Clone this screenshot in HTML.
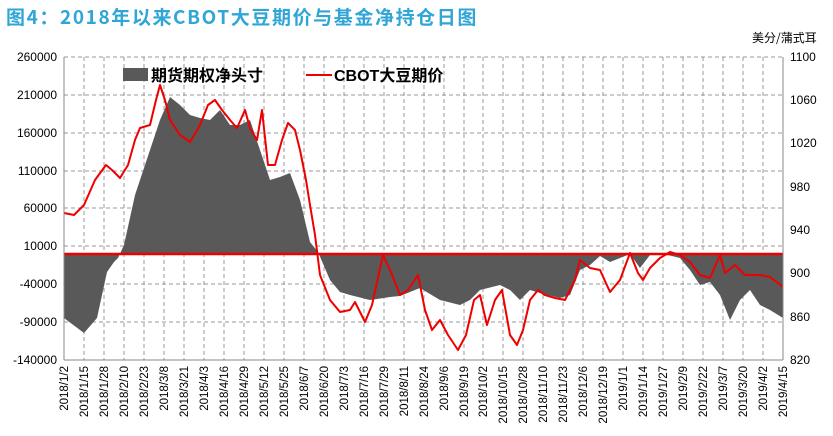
<!DOCTYPE html>
<html><head><meta charset="utf-8"><style>
body{margin:0;background:#fff;}
svg{display:block;font-family:"Liberation Sans","Noto Sans CJK SC",sans-serif;}
</style></head><body>
<svg width="833" height="436" viewBox="0 0 833 436" xmlns="http://www.w3.org/2000/svg">
<rect width="833" height="436" fill="#fff"/>
<text x="6" y="24" font-size="19" font-weight="bold" fill="#2fa6d6" font-family="'Noto Sans CJK SC',sans-serif" letter-spacing="1.6">图4：2018年以来CBOT大豆期价与基金净持仓日图</text>
<text x="752" y="42" font-size="12" fill="#000" font-family="'Noto Sans CJK SC',sans-serif">美分/蒲式耳</text>
<g stroke="#999" stroke-width="1" stroke-dasharray="4,3" fill="none">
<path d="M64 57H783M64 95H783M64 133H783M64 171H783M64 208H783M64 246H783M64 284H783M64 322H783"/>
<path d="M84 57V360M104 57V360M124 57V360M144 57V360M164 57V360M184 57V360M204 57V360M224 57V360M244 57V360M264 57V360M284 57V360M304 57V360M324 57V360M344 57V360M364 57V360M384 57V360M404 57V360M424 57V360M444 57V360M464 57V360M483 57V360M503 57V360M523 57V360M543 57V360M563 57V360M583 57V360M603 57V360M623 57V360M643 57V360M663 57V360M683 57V360M703 57V360M723 57V360M743 57V360M763 57V360"/>
</g>
<path fill="#595959" d="M64 254L64 318 84 333 97 318 107 272 114 262 118 258 124 245 135 195 150 150 160 120 170 97 180 105 190 115 200 118 210 120 220 110 230 125 240 125 250 120 260 150 270 180 280 177 290 173 300 200 310 242 318 252 330 280 340 292 350 295 370 300 390 297 400 296 410 292 420 288 440 300 460 305 470 300 480 290 500 285 510 290 520 300 530 290 540 293 560 298 570 295 580 270 590 265 600 256 610 262 620 258 630 254 640 268 650 255 660 253 680 258 690 270 700 285 710 282 720 295 730 320 740 300 750 290 760 305 770 310 783 318 783 254Z"/>
<line x1="64" y1="254" x2="783" y2="254" stroke="#e00" stroke-width="2.5"/>
<polyline fill="none" stroke="#e00" stroke-width="2" stroke-linejoin="round" points="64,213 74,215 84,205 95,180 106,165 112,170 120,178 128,165 135,140 140,128 150,125 156,100 160,85 165,100 170,120 180,135 190,142 200,125 208,105 215,100 222,110 230,120 237,128 245,110 250,128 257,140 262,110 268,165 275,165 282,140 288,123 295,130 300,150 306,180 310,205 315,235 320,275 330,300 340,312 350,310 355,302 365,322 372,305 383,255 390,270 400,295 408,290 418,275 425,310 432,330 440,320 448,335 458,350 466,335 474,300 480,295 487,325 495,300 502,290 510,335 517,345 523,330 530,300 538,290 545,295 555,298 565,300 575,280 580,260 590,268 600,270 610,292 620,280 630,253 638,273 643,280 650,268 660,258 670,252 680,255 690,262 700,275 710,278 720,255 725,273 735,265 745,275 760,275 770,277 783,287"/>
<g stroke="#888" stroke-width="1">
<line x1="64" y1="57" x2="64" y2="360"/><line x1="783" y1="57" x2="783" y2="360"/>
<line x1="64" y1="360" x2="783" y2="360"/>
</g>
<g font-size="12" fill="#000" text-anchor="end">
<text x="57" y="61">260000</text><text x="57" y="99">210000</text><text x="57" y="137">160000</text><text x="57" y="175">110000</text><text x="57" y="212">60000</text><text x="57" y="250">10000</text><text x="57" y="288">-40000</text><text x="57" y="326">-90000</text><text x="57" y="364">-140000</text>
</g>
<g font-size="12" fill="#000">
<text x="790" y="61">1100</text><text x="790" y="104">1060</text><text x="790" y="147">1020</text><text x="790" y="191">980</text><text x="790" y="234">940</text><text x="790" y="277">900</text><text x="790" y="321">860</text><text x="790" y="364">820</text>
</g>
<g font-size="11.5" fill="#000" text-anchor="end">
<text transform="translate(68,366) rotate(-90)">2018/1/2</text>
<text transform="translate(88,366) rotate(-90)">2018/1/15</text>
<text transform="translate(108,366) rotate(-90)">2018/1/28</text>
<text transform="translate(128,366) rotate(-90)">2018/2/10</text>
<text transform="translate(148,366) rotate(-90)">2018/2/23</text>
<text transform="translate(168,366) rotate(-90)">2018/3/8</text>
<text transform="translate(188,366) rotate(-90)">2018/3/21</text>
<text transform="translate(208,366) rotate(-90)">2018/4/3</text>
<text transform="translate(228,366) rotate(-90)">2018/4/16</text>
<text transform="translate(248,366) rotate(-90)">2018/4/29</text>
<text transform="translate(268,366) rotate(-90)">2018/5/12</text>
<text transform="translate(288,366) rotate(-90)">2018/5/25</text>
<text transform="translate(308,366) rotate(-90)">2018/6/7</text>
<text transform="translate(328,366) rotate(-90)">2018/6/20</text>
<text transform="translate(348,366) rotate(-90)">2018/7/3</text>
<text transform="translate(368,366) rotate(-90)">2018/7/16</text>
<text transform="translate(388,366) rotate(-90)">2018/7/29</text>
<text transform="translate(408,366) rotate(-90)">2018/8/11</text>
<text transform="translate(428,366) rotate(-90)">2018/8/24</text>
<text transform="translate(448,366) rotate(-90)">2018/9/6</text>
<text transform="translate(468,366) rotate(-90)">2018/9/19</text>
<text transform="translate(487,366) rotate(-90)">2018/10/2</text>
<text transform="translate(507,366) rotate(-90)">2018/10/15</text>
<text transform="translate(527,366) rotate(-90)">2018/10/28</text>
<text transform="translate(547,366) rotate(-90)">2018/11/10</text>
<text transform="translate(567,366) rotate(-90)">2018/11/23</text>
<text transform="translate(587,366) rotate(-90)">2018/12/6</text>
<text transform="translate(607,366) rotate(-90)">2018/12/19</text>
<text transform="translate(627,366) rotate(-90)">2019/1/1</text>
<text transform="translate(647,366) rotate(-90)">2019/1/14</text>
<text transform="translate(667,366) rotate(-90)">2019/1/27</text>
<text transform="translate(687,366) rotate(-90)">2019/2/9</text>
<text transform="translate(707,366) rotate(-90)">2019/2/22</text>
<text transform="translate(727,366) rotate(-90)">2019/3/7</text>
<text transform="translate(747,366) rotate(-90)">2019/3/20</text>
<text transform="translate(767,366) rotate(-90)">2019/4/2</text>
<text transform="translate(787,366) rotate(-90)">2019/4/15</text>
</g>
<rect x="123" y="68" width="25" height="13" fill="#595959"/>
<text x="151" y="81" font-size="16" font-weight="bold" fill="#000" font-family="'Noto Sans CJK SC',sans-serif">期货期权净头寸</text>
<line x1="306" y1="75" x2="332" y2="75" stroke="#e00" stroke-width="2"/>
<text x="334" y="81" font-size="16" font-weight="bold" fill="#000" font-family="'Liberation Sans','Noto Sans CJK SC',sans-serif">CBOT大豆期价</text>
</svg>
</body></html>
